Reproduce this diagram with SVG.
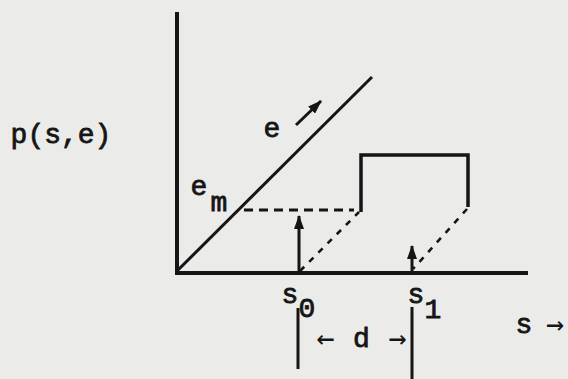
<svg xmlns="http://www.w3.org/2000/svg" width="568" height="379" viewBox="0 0 568 379">
  <style>
    .ink { stroke: #151515; fill: none; stroke-linecap: butt; }
    .axis { stroke-width: 4; }
    .solid { stroke-width: 3; }
    .dash { stroke-width: 3; stroke-dasharray: 9 6; }
    .dot { stroke-width: 2.6; stroke-dasharray: 6 7; }
    .t { font-family: "Liberation Mono", "Courier New", monospace; font-size: 28px; fill: #151515; stroke: #151515; stroke-width: 0.8; }
    .a { font-family: "DejaVu Sans Mono", monospace; font-size: 30px; fill: #151515; }
  </style>
  <defs>
    <marker id="head" markerUnits="userSpaceOnUse" viewBox="0 0 14 10" markerWidth="14" markerHeight="10" refX="13" refY="5" orient="auto">
      <path d="M0,0 L14,5 L0,10 z" fill="#151515"/>
    </marker>
  </defs>
  <rect width="568" height="379" fill="#ebebe9"/>

  <g id="axes">
    <line class="ink axis" x1="177" y1="12" x2="177" y2="275"/>
    <line class="ink axis" x1="175" y1="273" x2="528" y2="273"/>
  </g>

  <g id="curves">
    <line class="ink solid" x1="177" y1="271" x2="372" y2="77"/>
    <polyline class="ink" stroke-width="3.5" points="361,212 361,155 468,155 468,207"/>
    <line class="ink dash" x1="244" y1="210" x2="354" y2="210"/>
    <line class="ink dot" x1="300" y1="271" x2="359" y2="212"/>
    <line class="ink dot" x1="467" y1="209" x2="413" y2="269"/>
  </g>

  <g id="connectors">
    <line class="ink solid" x1="296" y1="125" x2="321" y2="101" marker-end="url(#head)"/>
    <line class="ink solid" x1="299" y1="273" x2="299" y2="216" marker-end="url(#head)"/>
    <line class="ink solid" x1="412" y1="273" x2="412" y2="246" marker-end="url(#head)"/>
    <line class="ink solid" x1="298" y1="308" x2="298" y2="369"/>
    <line class="ink solid" x1="412" y1="307" x2="412" y2="379"/>
  </g>

  <g id="labels">
    <text class="t" x="10.6" y="143">p(s,e)</text>
    <text class="t" x="272" y="137" text-anchor="middle">e</text>
    <text class="t" x="199" y="195" text-anchor="middle">e</text>
    <text class="t" x="219" y="211" text-anchor="middle">m</text>
    <text class="t" x="290" y="303" text-anchor="middle">s</text>
    <text class="t" x="307" y="317" text-anchor="middle">0</text>
    <text class="t" x="416" y="303" text-anchor="middle">s</text>
    <text class="t" x="433" y="318" text-anchor="middle">1</text>
    <text class="a" x="325.5" y="348" text-anchor="middle">←</text>
    <text class="t" x="361.5" y="347" text-anchor="middle">d</text>
    <text class="a" x="397.5" y="348" text-anchor="middle">→</text>
    <text class="t" x="524" y="333" text-anchor="middle">s</text>
    <text class="a" x="555" y="334" text-anchor="middle">→</text>
  </g>
</svg>
